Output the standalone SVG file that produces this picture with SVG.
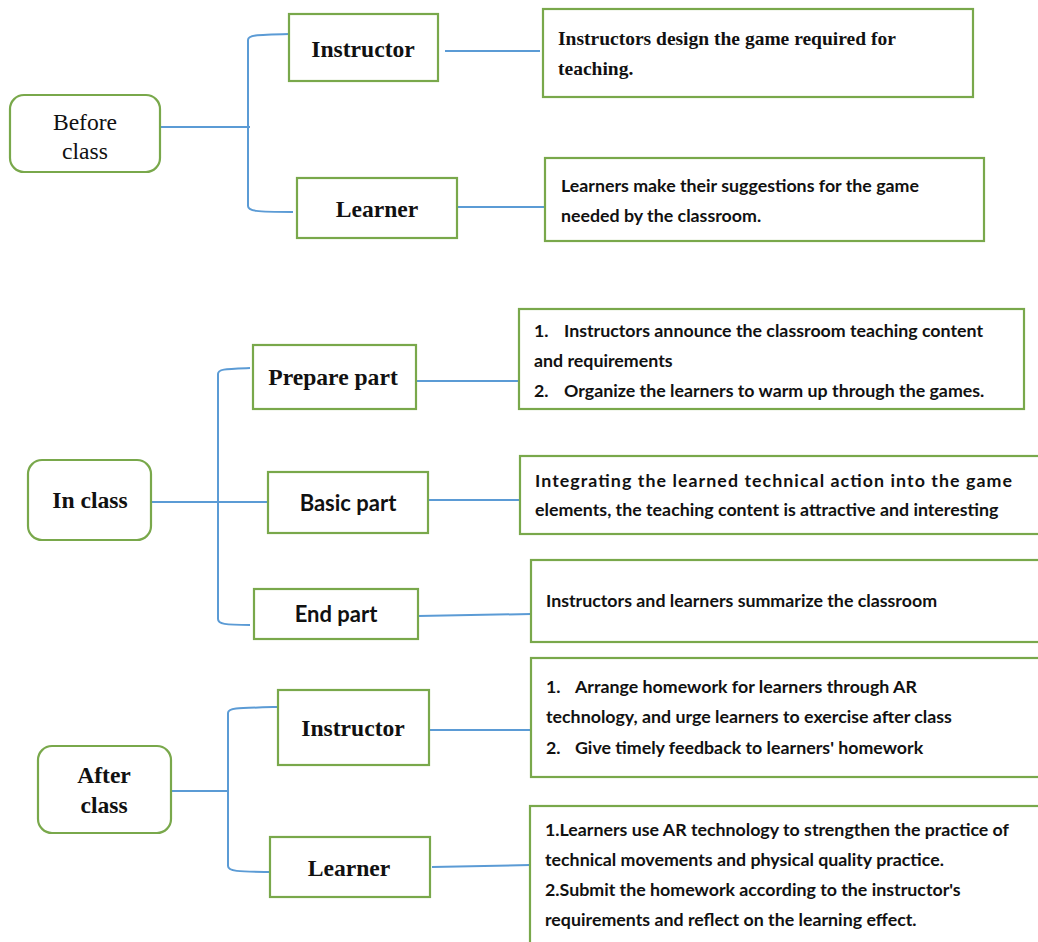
<svg xmlns="http://www.w3.org/2000/svg" width="1038" height="942" viewBox="0 0 1038 942">
<style>
.box{fill:#fff;stroke:#79a84b;stroke-width:2.2}
.con{fill:none;stroke:#5b9bd5;stroke-width:2}
.ser{font-family:"Liberation Serif","Times New Roman",serif;font-weight:bold;fill:#111}
.reg{font-family:"Liberation Serif","Times New Roman",serif;fill:#111}
.san{font-family:Lato,"Liberation Sans",sans-serif;font-weight:bold;fill:#111}
.lbl{font-size:23.6px}
.desc{font-size:17.8px}
</style>
<rect width="1038" height="942" fill="#fff"/>
<g id="connectors">
  <path class="con" d="M160 127 H250"/>
  <path class="con" d="M293 34 C255 35 248 35 248 40 V206 C248 211 255 212 293 212"/>
  <path class="con" d="M445 51 H540"/>
  <path class="con" d="M457 207 H545"/>
  <path class="con" d="M151 502 H268"/>
  <path class="con" d="M250 368 C225 369 218 369 218 374 V619 C218 624 225 625 250 625"/>
  <path class="con" d="M416 381 H519"/>
  <path class="con" d="M427 500 H520"/>
  <path class="con" d="M418 616 L531 614"/>
  <path class="con" d="M172 791 H228"/>
  <path class="con" d="M277 707 C235 708 228 708 228 713 V866 C228 871 235 872 277 872"/>
  <path class="con" d="M426 730 H531"/>
  <path class="con" d="M432 867 L530 865"/>
</g>
<g id="before-class">
  <rect class="box" x="10" y="95" width="150" height="77" rx="14"/>
  <text class="reg lbl" text-anchor="middle" x="85" y="130">Before</text>
  <text class="reg lbl" text-anchor="middle" x="85" y="159">class</text>
</g>
<g id="bc-instructor">
  <rect class="box" x="289" y="14" width="149" height="67"/>
  <text class="ser lbl" text-anchor="middle" x="363" y="57">Instructor</text>
</g>
<g id="bc-learner">
  <rect class="box" x="297" y="178" width="160" height="60"/>
  <text class="ser lbl" text-anchor="middle" x="377" y="217">Learner</text>
</g>
<g id="bc-instructor-desc">
  <rect class="box" x="543" y="9" width="430" height="88"/>
  <text class="ser" font-size="19.5"><tspan x="558" y="45">Instructors design the game required for</tspan><tspan x="558" y="75">teaching.</tspan></text>
</g>
<g id="bc-learner-desc">
  <rect class="box" x="545" y="158" width="439" height="83"/>
  <text class="san desc"><tspan x="561" y="192">Learners make their suggestions for the game</tspan><tspan x="561" y="222">needed by the classroom.</tspan></text>
</g>
<g id="in-class">
  <rect class="box" x="28" y="460" width="123" height="80" rx="14"/>
  <text class="ser lbl" text-anchor="middle" x="90" y="508">In class</text>
</g>
<g id="prepare-part">
  <rect class="box" x="253" y="345" width="163" height="64"/>
  <text class="ser lbl" text-anchor="middle" x="333" y="385">Prepare part</text>
</g>
<g id="basic-part">
  <rect class="box" x="268" y="472" width="160" height="61"/>
  <text class="san" font-size="22" text-anchor="middle" x="348" y="511">Basic part</text>
</g>
<g id="end-part">
  <rect class="box" x="254" y="589" width="164" height="50"/>
  <text class="san" font-size="22" text-anchor="middle" x="336" y="622">End part</text>
</g>
<g id="prepare-desc">
  <rect class="box" x="519" y="309" width="505" height="100"/>
  <text class="san desc"><tspan x="534" y="337">1.</tspan><tspan x="564" y="337">Instructors announce the classroom teaching content</tspan><tspan x="534" y="367">and requirements</tspan><tspan x="534" y="397">2.</tspan><tspan x="564" y="397">Organize the learners to warm up through the games.</tspan></text>
</g>
<g id="basic-desc">
  <rect class="box" x="520" y="456" width="530" height="78"/>
  <text class="san desc"><tspan x="535" y="487" textLength="477" lengthAdjust="spacing">Integrating the learned technical action into the game</tspan><tspan x="535" y="516">elements, the teaching content is attractive and interesting</tspan></text>
</g>
<g id="end-desc">
  <rect class="box" x="531" y="560" width="520" height="82"/>
  <text class="san desc" x="546" y="607">Instructors and learners summarize the classroom</text>
</g>
<g id="after-class">
  <rect class="box" x="38" y="746" width="133" height="87" rx="14"/>
  <text class="ser lbl" text-anchor="middle" x="104" y="783">After</text>
  <text class="ser lbl" text-anchor="middle" x="104" y="813">class</text>
</g>
<g id="ac-instructor">
  <rect class="box" x="278" y="690" width="151" height="75"/>
  <text class="ser lbl" text-anchor="middle" x="353" y="736">Instructor</text>
</g>
<g id="ac-learner">
  <rect class="box" x="270" y="837" width="160" height="60"/>
  <text class="ser lbl" text-anchor="middle" x="349" y="876">Learner</text>
</g>
<g id="ac-instructor-desc">
  <rect class="box" x="531" y="658" width="520" height="119"/>
  <text class="san desc"><tspan x="546" y="693">1.</tspan><tspan x="575" y="693">Arrange homework for learners through AR</tspan><tspan x="546" y="723">technology, and urge learners to exercise after class</tspan><tspan x="546" y="754">2.</tspan><tspan x="575" y="754">Give timely feedback to learners' homework</tspan></text>
</g>
<g id="ac-learner-desc">
  <rect class="box" x="530" y="806" width="520" height="150"/>
  <text class="san desc"><tspan x="545" y="836">1.Learners use AR technology to strengthen the practice of</tspan><tspan x="545" y="866">technical movements and physical quality practice.</tspan><tspan x="545" y="896">2.Submit the homework according to the instructor's</tspan><tspan x="545" y="926">requirements and reflect on the learning effect.</tspan></text>
</g>
</svg>
